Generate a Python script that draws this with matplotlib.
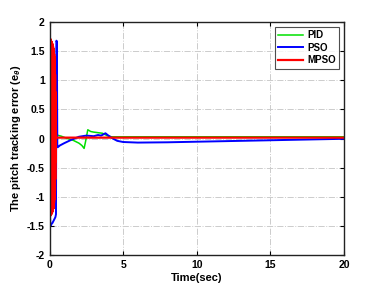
import matplotlib
matplotlib.use("Agg")
import matplotlib.pyplot as plt

# PID (green)
pid_t = [0.0, 0.02, 0.05, 0.1, 0.2, 0.3, 0.4, 0.5, 0.8, 1.2, 1.6, 2.0, 2.2, 2.35, 2.45, 2.6, 2.8, 3.0, 3.3, 3.6, 3.9, 4.2, 4.6, 5.0, 7.0, 10.0, 15.0, 20.0]
pid_v = [1.4, 0.5, -0.8, 0.6, -0.4, 0.2, 0.06, 0.06, 0.04, 0.0, -0.03, -0.08, -0.12, -0.17, -0.05, 0.15, 0.12, 0.11, 0.1, 0.09, 0.05, 0.03, 0.03, 0.03, 0.03, 0.03, 0.03, 0.03]

# PSO (blue)
pso_t = [0.0, 0.03, 0.06, 0.1, 0.2, 0.3, 0.4, 0.44, 0.47, 0.5, 0.53, 0.56, 0.7, 1.0, 1.5, 2.0, 2.5, 3.0, 3.3, 3.5, 3.8, 4.0, 4.3, 4.6, 5.0, 6.0, 8.0, 10.0, 12.0, 15.0, 18.0, 20.0]
pso_v = [1.55, -1.3, -1.5, -1.48, -1.45, -1.4, -1.35, -1.3, 1.68, 1.66, -0.1, -0.15, -0.12, -0.08, -0.02, 0.03, 0.05, 0.04, 0.06, 0.05, 0.09, 0.05, 0.0, -0.04, -0.06, -0.07, -0.065, -0.055, -0.045, -0.03, -0.015, -0.005]

# MPSO (red)
mpso_t = [0.0, 0.01, 0.02, 0.03, 0.04, 0.05, 0.06, 0.07, 0.08, 0.09, 0.1, 0.11, 0.12, 0.13, 0.14, 0.15, 0.16, 0.17, 0.18, 0.19, 0.2,
          0.21, 0.22, 0.23, 0.24, 0.25, 0.26, 0.27, 0.28, 0.29, 0.3, 0.31, 0.32, 0.33, 0.34, 0.35, 0.36, 0.37, 0.38, 0.39, 0.4, 0.41, 0.42,
          0.45, 0.6, 1.0, 5.0, 10.0, 15.0, 20.0]
mpso_v = [1.5, -1.3, 1.7, -1.35, 1.72, -1.3, 1.7, -1.32, 1.68, -1.3, 1.68, -1.28, 1.66, -1.3, 1.66, -1.27, 1.64, -1.28, 1.63, -1.25, 1.62,
          -1.25, 1.6, -1.22, 1.58, -1.2, 1.55, -1.2, 1.52, -1.15, 1.5, -1.1, 1.45, -1.05, 1.4, -1.0, 1.3, -0.9, 1.1, -0.7, 0.8, -0.4, 0.2,
          0.015, 0.015, 0.015, 0.015, 0.015, 0.015, 0.015]

xticks = [0, 5, 10, 15, 20]
yticks = [-2, -1.5, -1, -0.5, 0, 0.5, 1, 1.5, 2]
yticklabels = ["-2", "-1.5", "-1", "-0.5", "0", "0.5", "1", "1.5", "2"]

plt.rcParams['font.family'] = ['Liberation Sans', 'DejaVu Sans']
plt.rcParams['font.weight'] = 'bold'
plt.rcParams['mathtext.fontset'] = 'custom'
plt.rcParams['mathtext.rm'] = 'Liberation Sans:bold'
plt.rcParams['mathtext.it'] = 'Liberation Sans:bold:italic'

fig = plt.figure(figsize=(3.82, 2.86), dpi=100)
ax = fig.add_axes([0.1296, 0.1084, 0.7709, 0.8146])

ax.plot(pid_t, pid_v, color='#00e000', lw=1.1, label='PID')
ax.plot(pso_t, pso_v, color='#0000ff', lw=1.4, label='PSO')
ax.plot(mpso_t, mpso_v, color='#ff0000', lw=1.6, label='MPSO')

ax.set_xlim(0, 20)
ax.set_ylim(-2, 2)
ax.set_xticks(xticks)
ax.set_yticks(yticks)
ax.set_yticklabels(yticklabels)
ax.tick_params(direction='in', labelsize=7.5, length=3, width=0.8, top=True, right=True)
for lab in ax.get_xticklabels() + ax.get_yticklabels():
    lab.set_fontweight('bold')
ax.grid(True, linestyle='-.', color='#cccccc', linewidth=0.7)
for s in ax.spines.values():
    s.set_linewidth(1.0)
    s.set_color('#222222')

ax.set_xlabel('Time(sec)', fontsize=8, fontweight='bold', labelpad=2)
ax.set_ylabel(r'The pitch tracking error (e$_{\theta}$)', fontsize=8, fontweight='bold', labelpad=3)

leg = ax.legend(loc='upper right', prop={'weight': 'bold', 'size': 7},
                frameon=True, fancybox=False, edgecolor='#222222', handlelength=2.6,
                borderaxespad=0.5, labelspacing=0.25, borderpad=0.35, handletextpad=0.4)
leg.get_frame().set_linewidth(0.8)

fig.savefig('out.png', dpi=100)
